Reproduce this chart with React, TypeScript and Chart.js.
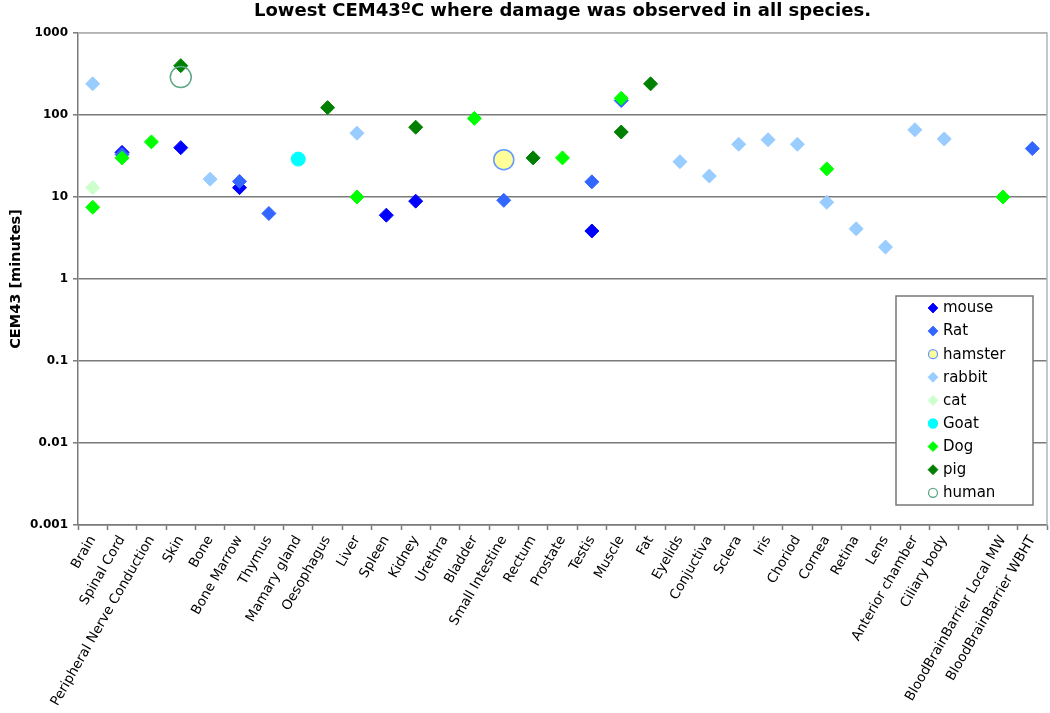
import React, { useEffect, useRef } from 'react';
import { Chart, registerables } from 'chart.js';

Chart.register(...registerables);

const _ = null;

const tissues = [
  'Brain', 'Spinal Cord', 'Peripheral Nerve Conduction', 'Skin', 'Bone', 'Bone Marrow', 'Thymus', 'Mamary gland', 'Oesophagus', 'Liver', 'Spleen',
  'Kidney', 'Urethra', 'Bladder', 'Small Intestine', 'Rectum', 'Prostate', 'Testis', 'Muscle', 'Fat', 'Eyelids', 'Conjuctiva',
  'Sclera', 'Iris', 'Choriod', 'Cornea', 'Retina', 'Lens', 'Anterior chamber', 'Ciliary body', '', 'BloodBrainBarrier Local MW', 'BloodBrainBarrier WBHT',
];

const mouse = [
  _, 35, _, 40, _, 13, _, _, _, _, 6.0,
  8.9, _, _, _, _, _, 3.85, _, _, _, _,
  _, _, _, _, _, _, _, _, _, _, _,
];
const rat = [
  _, 33, _, _, _, 15.5, 6.3, _, _, _, _,
  _, _, _, 9.1, _, _, 15.3, 150, _, _, _,
  _, _, _, _, _, _, _, _, _, _, 39,
];
const hamster = [
  _, _, _, _, _, _, _, _, _, _, _,
  _, _, _, 28.5, _, _, _, _, _, _, _,
  _, _, _, _, _, _, _, _, _, _, _,
];
const rabbit = [
  240, _, _, _, 16.5, _, _, _, _, 60, _,
  _, _, _, _, _, _, _, _, _, 27, 18,
  44, 50, 44, 8.6, 4.1, 2.45, 66, 51, _, _, _,
];
const cat = [
  13, _, _, _, _, _, _, _, _, _, _,
  _, _, _, _, _, _, _, _, _, _, _,
  _, _, _, _, _, _, _, _, _, _, _,
];
const goat = [
  _, _, _, _, _, _, _, 29, _, _, _,
  _, _, _, _, _, _, _, _, _, _, _,
  _, _, _, _, _, _, _, _, _, _, _,
];
const dog = [
  7.5, 30, 47, _, _, _, _, _, _, 10, _,
  _, _, 91, _, _, 30, _, 160, _, _, _,
  _, _, _, 22, _, _, _, _, _, 10, _,
];
const pig = [
  _, _, _, 400, _, _, _, _, 123, _, _,
  71, _, _, _, 30, _, _, 62, 240, _, _,
  _, _, _, _, _, _, _, _, _, _, _,
];
const human = [
  _, _, _, 290, _, _, _, _, _, _, _,
  _, _, _, _, _, _, _, _, _, _, _,
  _, _, _, _, _, _, _, _, _, _, _,
];

const yTicks = [0.001, 0.01, 0.1, 1, 10, 100, 1000];

const FONT = "'DejaVu Sans', sans-serif";

type S = { label: string; data: (number | null)[]; style: string; fill: string; stroke: string; r: number; bw: number; lr: number };
const series: S[] = [
  { label: 'mouse', data: mouse, style: 'rectRot', fill: '#0000FF', stroke: '#0000FF', r: 7, bw: 1, lr: 5 },
  { label: 'Rat', data: rat, style: 'rectRot', fill: '#3366FF', stroke: '#3366FF', r: 7, bw: 1, lr: 5 },
  { label: 'hamster', data: hamster, style: 'circle', fill: '#FFFF99', stroke: '#6699FF', r: 10, bw: 1.5, lr: 4.5 },
  { label: 'rabbit', data: rabbit, style: 'rectRot', fill: '#99CCFF', stroke: '#99CCFF', r: 7, bw: 1, lr: 5 },
  { label: 'cat', data: cat, style: 'rectRot', fill: '#CCFFCC', stroke: '#CCFFCC', r: 7, bw: 1, lr: 5 },
  { label: 'Goat', data: goat, style: 'circle', fill: '#00FFFF', stroke: '#00FFFF', r: 7, bw: 1, lr: 4.5 },
  { label: 'Dog', data: dog, style: 'rectRot', fill: '#00FF00', stroke: '#00FF00', r: 7, bw: 1, lr: 5 },
  { label: 'pig', data: pig, style: 'rectRot', fill: '#008000', stroke: '#008000', r: 7, bw: 1, lr: 5 },
  { label: 'human', data: human, style: 'circle', fill: 'rgba(0,0,0,0)', stroke: '#5FA886', r: 10.5, bw: 1.5, lr: 4.5 },
];

const framePlugin = {
  id: 'frame',
  beforeDatasetsDraw(chart: any) {
    const { ctx, chartArea: a } = chart;
    ctx.save();
    ctx.strokeStyle = '#b4b4b4';
    ctx.lineWidth = 1.5;
    ctx.beginPath();
    ctx.moveTo(a.left, a.top);
    ctx.lineTo(a.right, a.top);
    ctx.lineTo(a.right, a.bottom);
    ctx.stroke();
    ctx.restore();
  },
};

const legendPlugin = {
  id: 'boxLegend',
  afterDraw(chart: any) {
    const { ctx, chartArea: a } = chart;
    const w = 137;
    const h = 209;
    const x0 = a.right - 14 - w;
    const y0 = a.bottom - 20 - h;
    ctx.save();
    ctx.fillStyle = '#ffffff';
    ctx.fillRect(x0, y0, w, h);
    ctx.strokeStyle = '#777777';
    ctx.lineWidth = 1.5;
    ctx.strokeRect(x0, y0, w, h);
    series.forEach((s, i) => {
      const cy = y0 + 12 + i * 23.1;
      const cx = x0 + 37;
      ctx.beginPath();
      if (s.style === 'rectRot') {
        ctx.moveTo(cx - s.lr, cy);
        ctx.lineTo(cx, cy - s.lr);
        ctx.lineTo(cx + s.lr, cy);
        ctx.lineTo(cx, cy + s.lr);
        ctx.closePath();
      } else {
        ctx.arc(cx, cy, s.lr, 0, Math.PI * 2);
      }
      ctx.fillStyle = s.fill;
      ctx.fill();
      ctx.strokeStyle = s.stroke;
      ctx.lineWidth = s.style === 'rectRot' ? 0.8 : 1.3;
      ctx.stroke();
      ctx.fillStyle = '#000';
      ctx.font = `15px ${FONT}`;
      ctx.textBaseline = 'middle';
      ctx.textAlign = 'left';
      ctx.fillText(s.label, x0 + 47, cy + 0.5);
    });
    ctx.restore();
  },
};

export default function App() {
  const ref = useRef<HTMLCanvasElement>(null);
  useEffect(() => {
    document.body.style.margin = '0';
    Chart.defaults.font.family = FONT;
    const chart = new Chart(ref.current as HTMLCanvasElement, {
      type: 'line',
      data: {
        labels: tissues,
        datasets: series.map((s, i) => ({
          label: s.label,
          data: s.data,
          showLine: false,
          pointStyle: s.style,
          pointRadius: s.r,
          pointHoverRadius: s.r,
          pointBackgroundColor: s.fill,
          pointBorderColor: s.stroke,
          pointBorderWidth: s.bw,
          backgroundColor: s.fill,
          borderColor: s.stroke,
          order: -i,
        })),
      },
      options: {
        animation: false,
        responsive: true,
        maintainAspectRatio: false,
        layout: { padding: { left: 4, right: 3, top: 0, bottom: 0 } },
        plugins: {
          legend: { display: false },
          tooltip: { enabled: false },
          title: {
            display: true,
            text: 'Lowest CEM43ºC where damage was observed in all species.',
            color: '#000',
            font: { size: 18, weight: 'bold', family: FONT },
            padding: { top: 1, bottom: 10.4 },
            fullSize: false,
          },
        },
        scales: {
          x: {
            type: 'category',
            offset: true,
            grid: {
              offset: true,
              drawOnChartArea: false,
              drawTicks: true,
              tickLength: 5,
              tickColor: '#7a7a7a',
              tickWidth: 1.5,
            },
            border: { color: '#7a7a7a', width: 1.5 },
            ticks: {
              autoSkip: false,
              minRotation: 60,
              maxRotation: 60,
              padding: 3,
              color: '#000',
              font: { size: 13.5, family: FONT },
            },
            afterFit: (s: any) => {
              s.height = 188;
              s.paddingLeft = 0;
              s.paddingRight = 0;
            },
          },
          y: {
            type: 'logarithmic',
            min: 0.001,
            max: 1000,
            afterBuildTicks: (s: any) => {
              s.ticks = yTicks.map((v) => ({ value: v }));
            },
            ticks: {
              autoSkip: false,
              padding: 5,
              color: '#000',
              font: { size: 12, weight: 'bold', family: FONT },
              callback: (v: any) => String(v),
            },
            grid: {
              color: (c: any) => (c.tick && c.tick.value === 1000 ? '#b4b4b4' : '#7a7a7a'),
              lineWidth: 1.6,
              tickLength: 5,
              tickColor: '#7a7a7a',
              tickWidth: 1.5,
            },
            border: { color: '#7a7a7a', width: 1.5 },
            title: {
              display: true,
              text: 'CEM43 [minutes]',
              color: '#000',
              font: { size: 14.5, weight: 'bold', family: FONT },
              padding: { top: 4, bottom: 0 },
            },
            afterFit: (s: any) => {
              s.width = 74;
              s.paddingTop = 0;
              s.paddingBottom = 0;
            },
          },
        },
      },
      plugins: [framePlugin, legendPlugin],
    } as any);
    return () => chart.destroy();
  }, []);
  return (
    <div style={{ width: 1050, height: 713, position: 'relative', overflow: 'hidden' }}>
      <div style={{ width: 1059, height: 713, position: 'relative' }}>
        <canvas ref={ref} />
      </div>
    </div>
  );
}
